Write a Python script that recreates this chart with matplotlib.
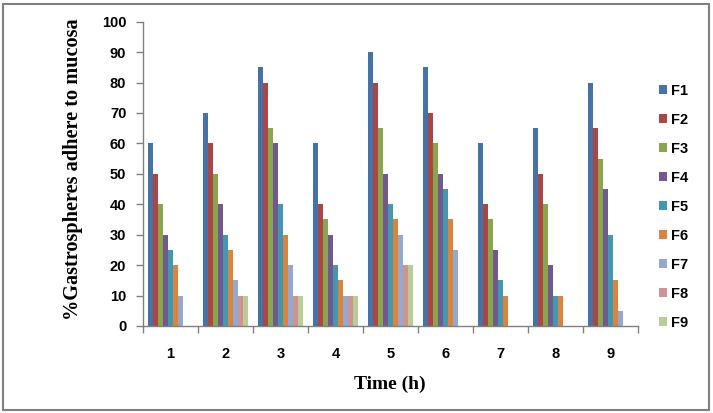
import numpy as np
import matplotlib.pyplot as plt
from matplotlib.patches import Rectangle

times = ['1', '2', '3', '4', '5', '6', '7', '8', '9']
series = ['F1', 'F2', 'F3', 'F4', 'F5', 'F6', 'F7', 'F8', 'F9']

# values per time point for each formulation
F1 = [60, 70, 85, 60, 90, 85, 60, 65, 80]
F2 = [50, 60, 80, 40, 80, 70, 40, 50, 65]
F3 = [40, 50, 65, 35, 65, 60, 35, 40, 55]
F4 = [30, 40, 60, 30, 50, 50, 25, 20, 45]
F5 = [25, 30, 40, 20, 40, 45, 15, 10, 30]
F6 = [20, 25, 30, 15, 35, 35, 10, 10, 15]
F7 = [10, 15, 20, 10, 30, 25, 0, 0, 5]
F8 = [0, 10, 10, 10, 20, 0, 0, 0, 0]
F9 = [0, 10, 10, 10, 20, 0, 0, 0, 0]

colors = ['#4572A7', '#AA4643', '#89A54E', '#71588F', '#4198AF',
          '#DB843D', '#93A9CF', '#D19392', '#B9CD96']

data = [F1, F2, F3, F4, F5, F6, F7, F8, F9]

fig = plt.figure(figsize=(7.13, 4.13), dpi=100)
ax = fig.add_axes([0.2006, 0.2107, 0.6942, 0.7368])

x = np.arange(len(times))
w = 0.092
handles = []
for i, (name, vals) in enumerate(zip(series, data)):
    b = ax.bar(x - 4 * w + i * w, vals, width=w, color=colors[i], label=name)
    handles.append(b)

ax.set_xlim(-0.5, len(times) - 0.5)
ax.set_ylim(0, 100)
ax.set_yticks(range(0, 101, 10))
ax.set_xticks(x)
ax.set_xticklabels(times)
ax.set_xticks(np.arange(-0.5, len(times), 1), minor=True)
ax.tick_params(axis='x', which='major', length=0, pad=15)
ax.tick_params(axis='x', which='minor', length=5, color='#808080', width=1)
ax.tick_params(axis='y', length=5, color='#808080', width=1, pad=7)
for lab in ax.get_xticklabels() + ax.get_yticklabels():
    lab.set_fontweight('bold')
    lab.set_fontsize(10.5)
    lab.set_family('Liberation Sans')

for s in ['top', 'right']:
    ax.spines[s].set_visible(False)
for s in ['left', 'bottom']:
    ax.spines[s].set_color('#808080')
    ax.spines[s].set_linewidth(1)

ax.set_ylabel('%Gastrospheres adhere to mucosa', fontsize=14.6, fontweight='bold',
              family='Liberation Serif')
ax.yaxis.set_label_coords(-0.121, 0.514)
ax.set_xlabel('Time (h)', fontsize=14, fontweight='bold', family='Liberation Serif')
ax.xaxis.set_label_coords(0.499, -0.162)

fig.legend(handles=handles, loc='upper left', bbox_to_anchor=(0.906, 0.829),
           frameon=False, prop={'family': 'Liberation Sans', 'weight': 'bold', 'size': 10.5},
           labelspacing=1.03, handlelength=0.55, handleheight=0.55, handletextpad=0.25)

fig.patches.append(Rectangle((0.004, 0.007), 0.991, 0.983, transform=fig.transFigure,
                             fill=False, edgecolor='#808080', linewidth=1.5))

fig.savefig('out.png', dpi=100)
